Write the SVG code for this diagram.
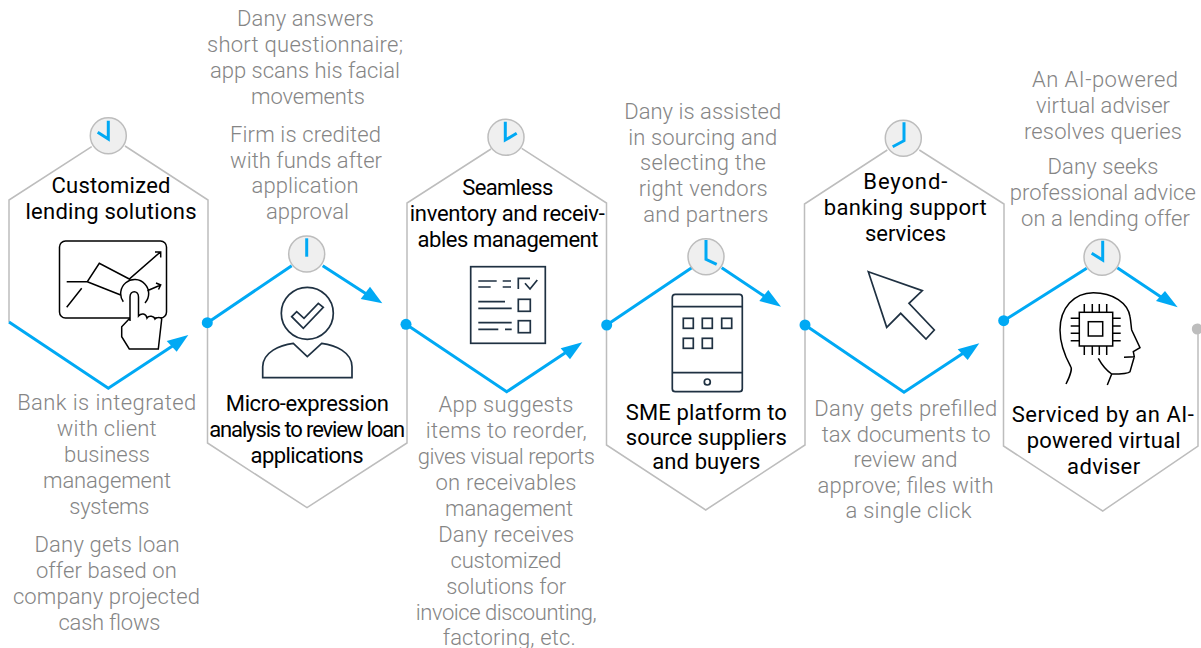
<svg xmlns="http://www.w3.org/2000/svg" width="1201" height="648" viewBox="0 0 1201 648">
<style>
text{font-family:"Roboto","Liberation Sans",sans-serif;font-size:22px;text-anchor:middle}
.g{fill:#858585;font-weight:300}
.k{fill:#000;font-weight:400}
.hex{fill:none;stroke:#bdbdbd;stroke-width:1.5}
.b{fill:none;stroke:#00a9f4;stroke-width:3}
.c{fill:#efefef;stroke:#bdbdbd;stroke-width:1.5}
.h{fill:none;stroke:#00a9f4;stroke-width:3}
.i{fill:none;stroke:#000;stroke-width:1.5}
.w{fill:#fff;stroke:#000;stroke-width:1.5}
.n{fill:none;stroke:#1f3142;stroke-width:1.7}
.a{fill:#00a9f4}
</style>
<g id="connectors">
<path class="hex" d="M9 322V200L91.700 146.700M125 146L208 200V322"/>
<path class="hex" d="M207.500 322V443L307 507.700L407 443V324"/>
<path class="hex" d="M407 324V203L491 149M521.700 148.300L606.500 203V325"/>
<path class="hex" d="M606.500 325V445L705.700 510L805 445V325"/>
<path class="hex" d="M804.500 325V204L887.300 150M919.300 150L1004 204V320"/>
<path class="hex" d="M1003.500 320V446L1102.700 511L1198 446V329"/>
<path class="b" d="M9 322L108.300 388.300L174 345"/><polygon class="a" points="188.300,335 176.700,351.700 166.700,341"/>
<path class="b" d="M207.500 322.700L291.700 265.700M322.700 265.700L368 295"/><polygon class="a" points="382.300,303.300 360.700,299 370,286.700"/>
<path class="b" d="M406 324.300L506.700 391.700L568 351"/><polygon class="a" points="582.300,342.300 570,359.300 560.700,348.300"/>
<path class="b" d="M606.700 325L691.700 267.700M721.700 267.700L767 298"/><polygon class="a" points="781,306.700 759.300,301 768.300,290"/>
<path class="b" d="M805 325L904 392.300L965 352"/><polygon class="a" points="979.300,343.300 967.700,360 957.700,349.300"/>
<path class="b" d="M1003.700 320.700L1086.700 268.300M1117.300 267.700L1164 299"/><polygon class="a" points="1177.700,307.300 1156,301 1165,291"/>
<circle class="a" cx="207.300" cy="322.700" r="5.500"/>
<circle class="a" cx="406" cy="324.300" r="5.500"/>
<circle class="a" cx="606.700" cy="325" r="5.500"/>
<circle class="a" cx="805" cy="325" r="5.500"/>
<circle class="a" cx="1003.700" cy="320.700" r="5.500"/>
<circle cx="1197.300" cy="329" r="5.500" fill="#bdbdbd"/>
</g>
<g id="node1">
<circle class="c" cx="108.300" cy="135.700" r="18"/><path class="h" d="M108.300 120.700V139L97.700 132.300"/>
<text class="k" x="111" y="193" textLength="119">Customized</text><text class="k" x="111" y="219" textLength="171">lending solutions</text>
<rect class="i" x="59.500" y="241" width="107" height="77" rx="6"/>
<path class="i" d="M66.700 281.700H87.300L99.300 263.300L129.300 279L160.700 251.700M155 252H160.700V257.500M87.300 281.700L120.700 295M81.700 288.300L66.700 307.300M147.300 290.700L160.700 285M156 283L160.700 285L158.500 289.500M123.300 301.700A14 14 0 1 1 145 303"/>
<path class="w" d="M130 321V297C130 290 138.500 290 138.500 297V316C141 313 146 313 147 318C149 315 154 316 155 319C157 317 161 317 161.700 319L158.300 349H129.300L121.700 336.700V326.700L130 318"/>
<text class="g" x="106.700" y="410" textLength="179">Bank is integrated</text><text class="g" x="106.700" y="436" textLength="100">with client</text><text class="g" x="107" y="462" textLength="86">business</text><text class="g" x="107" y="488" textLength="128">management</text><text class="g" x="109.300" y="514" textLength="80">systems</text>
<text class="g" x="107" y="552" textLength="145">Dany gets loan</text><text class="g" x="106.400" y="578" textLength="141">offer based on</text><text class="g" x="106.400" y="604" textLength="187">company projected</text><text class="g" x="109.500" y="630" textLength="102">cash flows</text>
</g>
<g id="node2">
<circle class="c" cx="306.700" cy="254" r="18"/><path class="h" d="M306.700 238.300V256.700"/>
<circle class="n" cx="307.300" cy="313.300" r="26"/><path class="n" d="M291.700 316.700L296.700 311.700L304 318.300L318.300 303.300L323.300 307.300L303.300 328.300Z"/>
<path class="n" d="M262.700 377.700V366.700C263 352 280 345 293.300 343.300L307.300 356.700L321.700 343.300C335 345 352 352 352 366.700V377.700Z"/>
<text class="g" x="305.500" y="26" textLength="137">Dany answers</text><text class="g" x="305" y="52" textLength="196">short questionnaire;</text><text class="g" x="305" y="78" textLength="190">app scans his facial</text><text class="g" x="308" y="104" textLength="114">movements</text>
<text class="g" x="305.500" y="142" textLength="151">Firm is credited</text><text class="g" x="306" y="168" textLength="152">with funds after</text><text class="g" x="305" y="193" textLength="107">application</text><text class="g" x="307.500" y="219" textLength="83">approval</text>
<text class="k" x="307.300" y="411" textLength="163">Micro-expression</text><text class="k" x="307.200" y="437" textLength="196">analysis to review loan</text><text class="k" x="307" y="463" textLength="113">applications</text>
</g>
<g id="node3">
<circle class="c" cx="506" cy="137.300" r="18"/><path class="h" d="M505.300 121.700V140L516.700 133.300"/>
<text class="k" x="507.800" y="195" textLength="91">Seamless</text><text class="k" x="507.300" y="221" textLength="195">inventory and receiv-</text><text class="k" x="508" y="247" textLength="181">ables management</text>
<rect class="n" x="470.700" y="266.700" width="74.600" height="76.600"/>
<path class="n" d="M478.300 281H496.700M502.700 281H511M478.300 287H490.700M502.700 287H511M478.300 301.700H505M478.300 308.300H511.700M478.300 322.700H511.700M478.300 329.300H498.300M505 329.300H511.700M518.300 289V278.300H530M525 283.300L530 289L537.300 280"/>
<rect class="n" x="518.300" y="299.300" width="12" height="12"/><rect class="n" x="518.300" y="320.700" width="12" height="12"/>
<text class="g" x="506" y="412" textLength="135">App suggests</text><text class="g" x="506.300" y="438" textLength="161">items to reorder,</text><text class="g" x="506.300" y="464" textLength="177">gives visual reports</text><text class="g" x="506" y="490" textLength="141">on receivables</text><text class="g" x="509" y="516" textLength="128">management</text>
<text class="g" x="506.200" y="542" textLength="136">Dany receives</text><text class="g" x="506" y="568" textLength="111">customized</text><text class="g" x="506.200" y="594" textLength="120">solutions for</text><text class="g" x="506.300" y="620" textLength="181">invoice discounting,</text><text class="g" x="509.200" y="645" textLength="133">factoring, etc.</text>
</g>
<g id="node4">
<circle class="c" cx="706" cy="256.700" r="18"/><path class="h" d="M706 240V259.300L716.700 264.300"/>
<rect class="n" x="672.300" y="294.300" width="70" height="97.400" rx="3"/><path class="n" d="M672.300 306.700H742.300M672.300 372.700H742.300"/>
<rect class="n" x="683.300" y="318.300" width="10" height="10"/><rect class="n" x="702.300" y="318.300" width="10" height="10"/><rect class="n" x="721.700" y="318.300" width="10" height="10"/><rect class="n" x="683.300" y="338.300" width="10" height="10"/><rect class="n" x="702.300" y="338.300" width="10" height="10"/><circle class="n" cx="707.300" cy="382" r="3"/>
<text class="g" x="702.700" y="119" textLength="157">Dany is assisted</text><text class="g" x="702.800" y="145" textLength="149">in sourcing and</text><text class="g" x="703" y="170" textLength="126">selecting the</text><text class="g" x="703.200" y="196" textLength="129">right vendors</text><text class="g" x="705.800" y="222" textLength="125">and partners</text>
<text class="k" x="706.300" y="420" textLength="161">SME platform to</text><text class="k" x="706.300" y="445" textLength="161">source suppliers</text><text class="k" x="706.300" y="469" textLength="108">and buyers</text>
</g>
<g id="node5">
<circle class="c" cx="903.300" cy="138.300" r="18"/><path class="h" d="M904 122.300V140.700L892.700 146.700"/>
<text class="k" x="905.300" y="189" textLength="84">Beyond-</text><text class="k" x="905.300" y="215" textLength="163">banking support</text><text class="k" x="905.500" y="241" textLength="81">services</text>
<path class="n" d="M868.300 271.700L922.300 290.700L909 303.300L934.300 330L926 339L900.700 313.300L886.700 327.300Z"/>
<text class="g" x="905.800" y="416" textLength="183">Dany gets prefilled</text><text class="g" x="906.200" y="442" textLength="169">tax documents to</text><text class="g" x="905.500" y="467" textLength="104">review and</text><text class="g" x="905.500" y="493" textLength="176">approve; files with</text><text class="g" x="908.500" y="518" textLength="126">a single click</text>
</g>
<g id="node6">
<circle class="c" cx="1102" cy="257.300" r="18"/><path class="h" d="M1102.700 240.700V260L1091.700 253.300"/>
<path class="i" d="M1066 384C1071 374 1072 368 1070.700 366.700C1066 358 1060 345 1060 330C1060 308 1074 292.700 1093.300 292.700C1113 292.700 1128 303 1130 316.700C1131 322 1131 326 1131.700 330L1140 347.700L1133.300 351.700L1134.300 356.700L1124 357.300M1134.300 356.700L1130 371.700C1128 374 1120 374 1111.700 374L1107.300 385M1098.300 358.300C1102 365 1106 370 1111.700 374"/>
<rect class="i" x="1079.300" y="312.300" width="33.400" height="33.700"/><rect class="i" x="1088.300" y="321.700" width="14.400" height="14.300"/>
<path class="i" d="M1084.300 304V312.300M1092.300 304V312.300M1099.300 304V312.300M1106.700 304V312.300M1084.300 346V355M1092.300 346V355M1099.300 346V355M1106.700 346V355M1070.700 318.300H1079.300M1070.700 326H1079.300M1070.700 333.300H1079.300M1070.700 340.700H1079.300M1112.700 318.300H1120.700M1112.700 326H1120.700M1112.700 333.300H1120.700M1112.700 340.700H1120.700"/>
<text class="g" x="1105" y="87" textLength="146">An AI-powered</text><text class="g" x="1103" y="113" textLength="134">virtual adviser</text><text class="g" x="1103" y="139" textLength="158">resolves queries</text>
<text class="g" x="1103" y="174" textLength="111">Dany seeks</text><text class="g" x="1102.800" y="200" textLength="186">professional advice</text><text class="g" x="1105.500" y="226" textLength="169">on a lending offer</text>
<text class="k" x="1102.800" y="422" textLength="182">Serviced by an AI-</text><text class="k" x="1103.700" y="448" textLength="154">powered virtual</text><text class="k" x="1103.600" y="474" textLength="73">adviser</text>
</g>
</svg>
